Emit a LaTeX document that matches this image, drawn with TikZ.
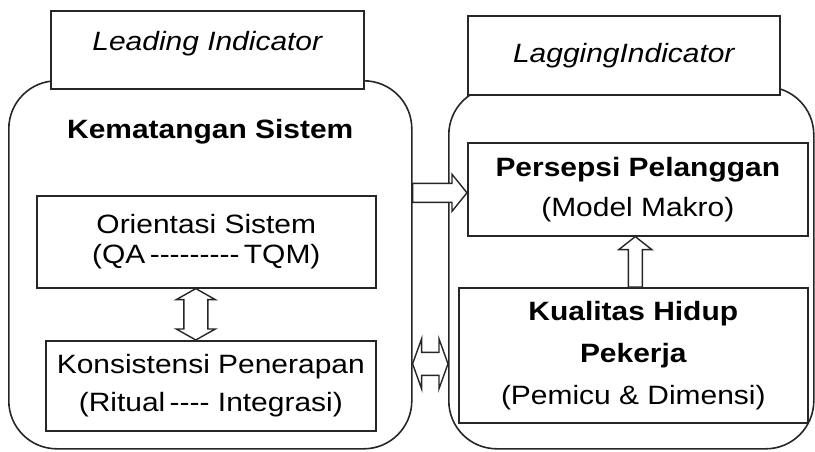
\documentclass[tikz,border=0pt]{standalone}
\usepackage{fontspec}
\setmainfont{Liberation Sans}[FakeStretch=1.13]
\usetikzlibrary{calc}

% single hyphen that never joins into an en/em dash
\newcommand\hy{\mbox{-}}

% hollow block arrow: #1 tail, #2 tip, #3 half shaft width, #4 half head width, #5 head length
\newcommand\blockarrow[5]{%
  \coordinate (ba-h) at ($(#2)!#5!(#1)$);
  \draw[blockline] ($(#1)!#3!90:(#2)$) -- ($(ba-h)!#3!-90:(#1)$) -- ($(ba-h)!#4!-90:(#1)$)
    -- (#2) -- ($(ba-h)!#4!90:(#1)$) -- ($(ba-h)!#3!90:(#1)$) -- ($(#1)!#3!-90:(#2)$) -- cycle;
}
% hollow double-headed block arrow between #1 and #2
\newcommand\dblblockarrow[5]{%
  \coordinate (bd-a) at ($(#1)!#5!(#2)$);
  \coordinate (bd-b) at ($(#2)!#5!(#1)$);
  \draw[blockline] (#1) -- ($(bd-a)!#4!90:(#2)$) -- ($(bd-a)!#3!90:(#2)$)
    -- ($(bd-b)!#3!-90:(#1)$) -- ($(bd-b)!#4!-90:(#1)$) -- (#2)
    -- ($(bd-b)!#4!90:(#1)$) -- ($(bd-b)!#3!90:(#1)$)
    -- ($(bd-a)!#3!-90:(#2)$) -- ($(bd-a)!#4!-90:(#2)$) -- cycle;
}

\begin{document}
\begin{tikzpicture}[x=1pt,y=-1pt,
  ink/.style={draw=black!85,line width=1.6pt},
  panel/.style={ink,rectangle,rounded corners=48pt,inner sep=0pt,anchor=north west},
  headbox/.style={ink,fill=white,rectangle,inner sep=0pt,anchor=north west},
  itembox/.style={ink,fill=white,rectangle,inner sep=0pt,anchor=north west,align=center},
  blockline/.style={ink,fill=white,line width=1.4pt,line join=miter},
  txt/.style={inner sep=0pt,anchor=base},
  every node/.append style={font=\fontsize{26.5}{30}\selectfont}]
\useasboundingbox (0,0) rectangle (815,451);

% outer rounded panels
\node[panel,minimum width=403pt,minimum height=368pt] (L) at (8,80) {};
\node[panel,minimum width=365pt,minimum height=362pt] (R) at (448,86) {};

% header tabs
\node[headbox,minimum width=313pt,minimum height=78pt] (LH) at (50,10) {};
\node[headbox,minimum width=312pt,minimum height=79pt] (RH) at (467,15) {};
\node[txt] (LHt) at ($(LH.north)+(0,-40pt)$) {\itshape Leading Indicator};
\node[txt] (RHt) at ($(RH.north)+(0,-47pt)$) {\itshape LaggingIndicator};

% left panel
\node[txt] (KS) at ($(L.north)+(0,-58pt)$) {\bfseries Kematangan Sistem};
\node[itembox,minimum width=339pt,minimum height=92pt] (O) at (36,195)
  {Orientasi Sistem\\(QA\,\hy\hy\hy\hy\hy\hy\hy\hy\hy\,TQM)};
\node[itembox,minimum width=330pt,minimum height=90pt,
  font=\fontsize{26.5}{38}\selectfont] (K) at (45,340)
  {Konsistensi Penerapan\\(Ritual\,\hy\hy\hy\hy{} Integrasi)};

% right panel
\node[itembox,minimum width=340pt,minimum height=93pt,
  font=\fontsize{26.5}{40}\selectfont] (P) at (467,142)
  {\bfseries Persepsi Pelanggan\\(Model Makro)};
\node[itembox,minimum width=349pt,minimum height=135pt,
  font=\fontsize{26.5}{42}\selectfont] (Q) at (458,287)
  {\bfseries Kualitas Hidup\\\bfseries Pekerja\\(Pemicu \& Dimensi)};

% connectors
\coordinate (rt) at ($(P.west)+(0,-3.5pt)$);
\coordinate (rs) at (L.east |- rt);
\blockarrow{rs}{rt}{9.5pt}{18.5pt}{15pt}

\coordinate (ha) at ($(L.east)+(0,-99pt)$);
\coordinate (hb) at (R.west |- ha);
\dblblockarrow{ha}{hb}{11.5pt}{25pt}{9pt}

\coordinate (va) at ($(O.south)+(-10.5pt,0)$);
\coordinate (vb) at (va |- K.north);
\dblblockarrow{va}{vb}{12pt}{19.5pt}{11pt}

\coordinate (ua) at ($(Q.north)+(2pt,0)$);
\coordinate (ub) at (ua |- P.south);
\blockarrow{ua}{ub}{7pt}{16.5pt}{13pt}
\end{tikzpicture}
\end{document}
